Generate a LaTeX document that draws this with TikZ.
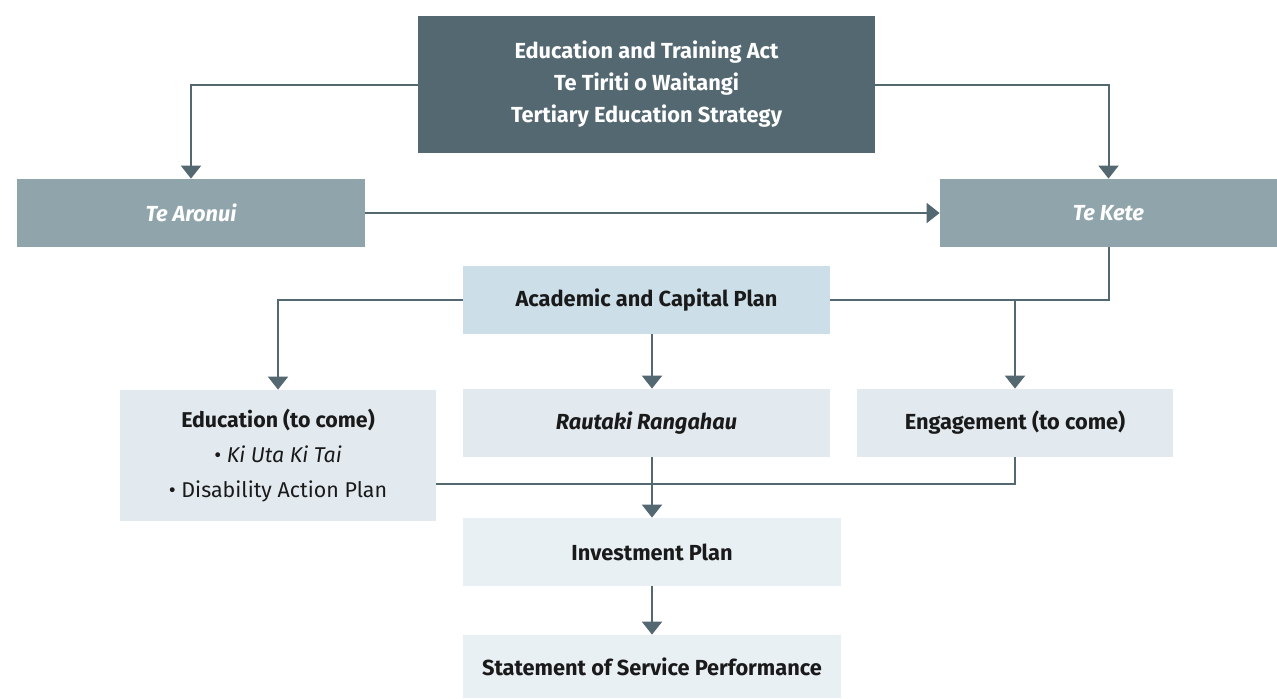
\documentclass[tikz,border=0pt]{standalone}
\usepackage{fontspec}
\setmainfont{Fira Sans}
\usepackage{xcolor}
\usepackage{tikz}
\usetikzlibrary{arrows.meta,positioning}
\definecolor{PlanSlate}{HTML}{536870}
\definecolor{PlanGrey}{HTML}{8FA4AB}
\definecolor{PlanBlue}{HTML}{CCDFE8}
\definecolor{PlanPale}{HTML}{E2EAEF}
\definecolor{PlanPaler}{HTML}{E9F0F4}
\definecolor{PlanInk}{HTML}{1A1A1A}

\begin{document}
\begin{tikzpicture}[
  x=0.5pt, y=-0.5pt,
  base/.style={inner sep=0pt, align=center, text=PlanInk, font=\fontsize{10.7}{17.5}\selectfont},
  topbox/.style={base, fill=PlanSlate, text=white, font=\fontsize{10.9}{16}\selectfont\bfseries, minimum width=228.5pt, minimum height=68.5pt},
  greybox/.style={base, fill=PlanGrey, text=white, font=\fontsize{10.9}{16}\selectfont\itshape\bfseries, minimum height=34pt},
  bluebox/.style={base, fill=PlanBlue, font=\fontsize{10.9}{16}\selectfont\bfseries, minimum width=183.5pt, minimum height=34pt},
  palebox/.style={base, fill=PlanPale, minimum height=34pt},
  palerbox/.style={base, fill=PlanPaler, font=\fontsize{10.9}{16}\selectfont\bfseries, minimum width=189pt, minimum height=34pt},
  line/.style={draw=PlanSlate, line width=1pt},
  arr/.style={line, -{Triangle[width=10pt, length=6.5pt]}}
]
  \useasboundingbox (0,0) rectangle (1277,698);

  \node[topbox] (act) at (646.5,84.5) {Education and Training Act\\Te Tiriti o Waitangi\\Tertiary Education Strategy};
  \node[greybox, minimum width=174pt] (aronui) at (191,213) {Te Aronui};
  \node[greybox, minimum width=168.5pt] (kete) at (1108.5,213) {Te Kete};
  \node[bluebox] (acad) at (646.5,300) {Academic and Capital Plan};
  \node[palebox, minimum width=158pt, minimum height=65.5pt] (edu) at (278,455.5)
    {\textbf{Education (to come)}\\\textbullet{} \textit{Ki Uta Ki Tai}\\\textbullet{} Disability Action Plan};
  \node[palebox, minimum width=183.5pt, font=\fontsize{10.9}{16}\selectfont\bfseries\itshape] (raut) at (646.5,423) {Rautaki Rangahau};
  \node[palebox, minimum width=158pt, font=\fontsize{10.9}{16}\selectfont\bfseries] (eng) at (1015,423) {Engagement (to come)};
  \node[palerbox] (inv) at (652,552) {Investment Plan};
  \node[palerbox, minimum height=31.5pt] (ssp) at (652,666.5) {Statement of Service Performance};

  % framework feeds both strategies
  \draw[arr] (act.west) -| (aronui.north);
  \draw[arr] (act.east) -| (kete.north);
  \draw[arr] (aronui) -- (kete);

  % plan level
  \draw[line] (kete.south) |- (acad.east);
  \draw[arr] (eng.north |- acad.east) -- (eng.north);
  \draw[arr] (acad.west) -| (edu.north);
  \draw[arr] (acad.south -| inv.north) -- (raut.north -| inv.north);

  % everything rolls into investment
  \draw[line] ([yshift=-14pt]edu.east) -| (eng.south);
  \draw[arr] (raut.south -| inv.north) -- (inv.north);
  \draw[arr] (inv) -- (ssp);
\end{tikzpicture}
\end{document}
